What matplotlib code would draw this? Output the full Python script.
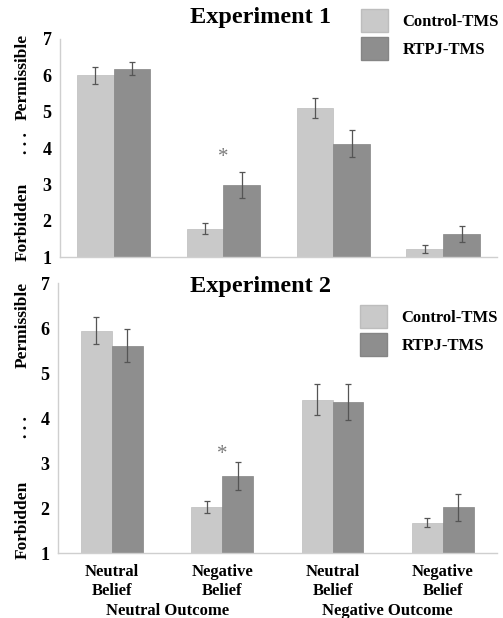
import matplotlib
matplotlib.use("Agg")
import matplotlib.pyplot as plt
import numpy as np
from matplotlib.patches import Patch

plt.rcParams['font.family'] = ['Liberation Serif', 'DejaVu Serif']

# data
conditions = ["Neutral\nBelief", "Negative\nBelief", "Neutral\nBelief", "Negative\nBelief"]
outcomes = ["Neutral Outcome", "Negative Outcome"]
series = ["Control-TMS", "RTPJ-TMS"]

exp1_control = [6.00, 1.78, 5.10, 1.23]
exp1_control_err = [0.23, 0.15, 0.27, 0.11]
exp1_rtpj = [6.18, 2.98, 4.12, 1.63]
exp1_rtpj_err = [0.18, 0.35, 0.37, 0.22]

exp2_control = [5.94, 2.02, 4.41, 1.68]
exp2_control_err = [0.30, 0.13, 0.35, 0.11]
exp2_rtpj = [5.61, 2.72, 4.36, 2.02]
exp2_rtpj_err = [0.36, 0.31, 0.40, 0.30]

star_pos = [(1, 3.74), (1, 3.18)]
yticks = [1, 2, 3, 4, 5, 6, 7]

light = "#c9c9c9"
dark = "#8e8e8e"
spine_col = "#cfcfcf"

fig = plt.figure(figsize=(5.03, 6.18), dpi=100)
ax1 = fig.add_axes([0.119, 0.584, 0.869, 0.353])
ax2 = fig.add_axes([0.115, 0.105, 0.873, 0.437])

x = np.arange(len(conditions))


def draw_panel(ax, ctrl, ctrl_err, rtpj, rtpj_err, w, star, tick_weight):
    ax.bar(x - w / 2, np.array(ctrl) - 1, w, bottom=1, color=light,
           edgecolor="#bdbdbd", linewidth=0.5)
    ax.bar(x + w / 2, np.array(rtpj) - 1, w, bottom=1, color=dark,
           edgecolor="#858585", linewidth=0.5)
    ax.errorbar(x - w / 2, ctrl, yerr=ctrl_err, fmt="none", ecolor="#555555",
                elinewidth=0.9, capsize=2.5, capthick=0.9)
    ax.errorbar(x + w / 2, rtpj, yerr=rtpj_err, fmt="none", ecolor="#555555",
                elinewidth=0.9, capsize=2.5, capthick=0.9)
    ax.text(star[0], star[1], "*", ha="center", va="center", fontsize=15,
            color="#7a7a7a")
    ax.set_ylim(1, 7)
    ax.set_xlim(-0.49, 3.49)
    ax.set_yticks(yticks)
    ax.set_yticklabels([str(t) for t in yticks], fontsize=13,
                       fontweight=tick_weight)
    ax.tick_params(axis="y", length=0, pad=6)
    ax.tick_params(axis="x", length=0)
    for s in ["top", "right"]:
        ax.spines[s].set_visible(False)
    for s in ["left", "bottom"]:
        ax.spines[s].set_color(spine_col)
        ax.spines[s].set_linewidth(1.0)


draw_panel(ax1, exp1_control, exp1_control_err, exp1_rtpj, exp1_rtpj_err,
           0.335, star_pos[0], "bold")
ax1.set_xticks([])

draw_panel(ax2, exp2_control, exp2_control_err, exp2_rtpj, exp2_rtpj_err,
           0.28, star_pos[1], "bold")
ax2.set_xticks(x)
ax2.set_xticklabels(conditions, fontsize=12, fontweight="bold",
                    linespacing=1.2)
ax2.tick_params(axis="x", pad=8)
for i, name in enumerate(outcomes):
    ax2.text(2 * i + 0.5, -0.215, name, transform=ax2.get_xaxis_transform(),
             ha="center", va="center", fontsize=12, fontweight="bold")

# titles
fig.text(0.517, 0.971, "Experiment 1", ha="center", va="center",
         fontsize=17.5, fontweight="bold")
fig.text(0.517, 0.537, "Experiment 2", ha="center", va="center",
         fontsize=17.5, fontweight="bold")

# y-axis labels
for ypix in [(77, 143, 222), (325, 427, 520)]:
    fig.text(0.045, 1 - ypix[0] / 618, "Permissible", rotation=90,
             ha="center", va="center", fontsize=12.5, fontweight="bold")
    fig.text(0.045, 1 - ypix[1] / 618, ". . .", rotation=90,
             ha="center", va="center", fontsize=12.5, fontweight="bold")
    fig.text(0.045, 1 - ypix[2] / 618, "Forbidden", rotation=90,
             ha="center", va="center", fontsize=12.5, fontweight="bold")

handles = [Patch(facecolor=light, edgecolor="#bdbdbd"),
           Patch(facecolor=dark, edgecolor="#858585")]
leg_kw = dict(frameon=False, handlelength=1.6, handleheight=1.75,
              handletextpad=0.9, labelspacing=0.3, borderpad=0,
              borderaxespad=0,
              prop={"family": "Liberation Serif", "weight": "bold", "size": 12})
fig.legend(handles, series, loc="upper left",
           bbox_to_anchor=(361 / 503, 1 - 9 / 618), **leg_kw)
fig.legend(handles, series, loc="upper left",
           bbox_to_anchor=(360 / 503, 1 - 305 / 618), **leg_kw)

fig.savefig("out.png", dpi=100)
